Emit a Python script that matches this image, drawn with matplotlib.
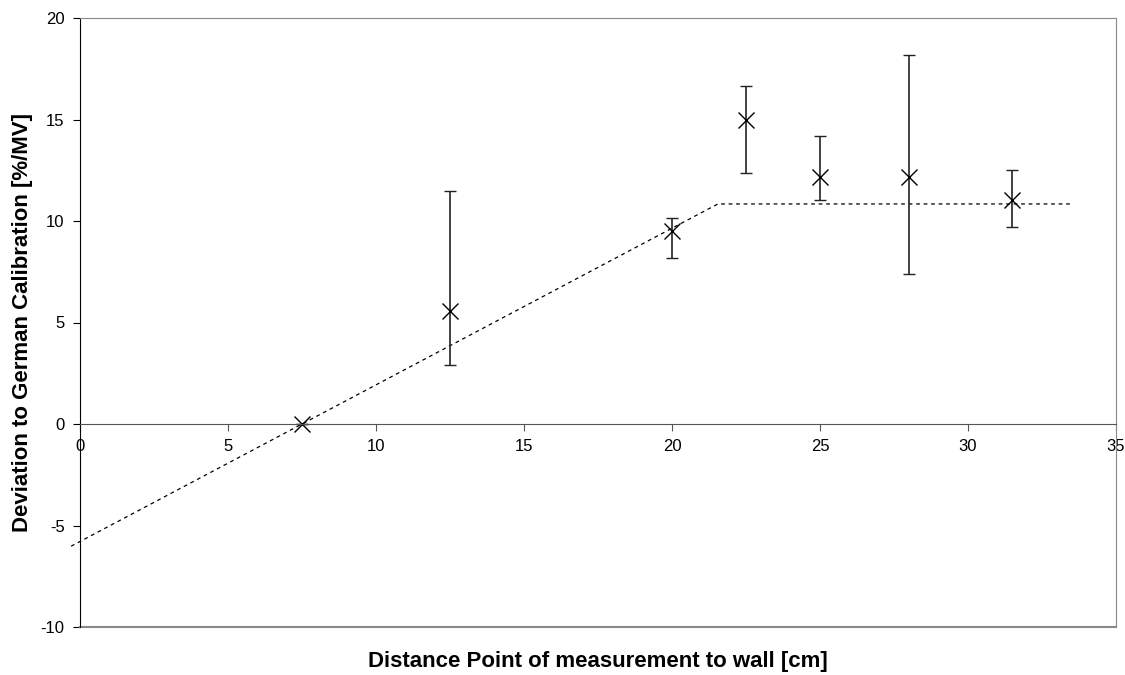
import matplotlib
matplotlib.use('Agg')
import matplotlib.pyplot as plt

plt.rcParams['font.family'] = ['Liberation Sans', 'DejaVu Sans']
plt.rcParams['axes.unicode_minus'] = False

# measured points: distance [cm], deviation [%/MV], lower / upper error
distance = [7.5, 12.5, 20.0, 22.5, 25.0, 28.0, 31.5]
deviation = [0.0, 5.57, 9.5, 14.98, 12.17, 12.17, 11.03]
err_low = [0.0, 2.67, 1.32, 2.62, 1.14, 4.77, 1.33]
err_high = [0.0, 5.93, 0.65, 1.69, 2.01, 6.03, 1.47]

# dashed model line
fit_x = [-0.3, 21.55, 33.55]
fit_y = [-6.02, 10.84, 10.84]

fig = plt.figure(figsize=(11.25, 6.75), dpi=100)
ax = fig.add_axes([80 / 1125, 48 / 675, 1036 / 1125, 609 / 675])

ax.plot(fit_x, fit_y, linestyle=(0, (3, 3)), color='black', linewidth=0.9, clip_on=False)
ax.errorbar(distance, deviation, yerr=[err_low, err_high], fmt='x', color='black',
            ecolor='#222222', elinewidth=1.2, capsize=4, capthick=1.2,
            markersize=11, markeredgewidth=1.0)

ax.set_xlim(0, 35)
ax.set_ylim(-10, 20)
ax.set_xticks(range(0, 36, 5))
ax.set_yticks(range(-10, 21, 5))

# x axis sits at y = 0, frame drawn in gray
ax.spines['bottom'].set_position(('data', 0))
ax.spines['bottom'].set_color('#555555')
ax.spines['left'].set_color('black')
ax.spines['top'].set_color('#888888')
ax.spines['right'].set_color('#888888')
ax.axhline(-10, color='#888888', linewidth=1.5, clip_on=False)

ax.tick_params(axis='x', direction='out', length=5, labelsize=12, pad=6, color='#555555')
ax.tick_params(axis='y', direction='out', length=5, labelsize=12, pad=6)

fig.text(23 / 1125, (1 - 323 / 675), 'Deviation to German Calibration [%/MV]', rotation=90,
         ha='center', va='center', fontsize=16, fontweight='bold')
fig.text(598 / 1125, 1 - 662 / 675, 'Distance Point of measurement to wall [cm]',
         ha='center', va='center', fontsize=16, fontweight='bold')

fig.savefig('out.png', dpi=100)
